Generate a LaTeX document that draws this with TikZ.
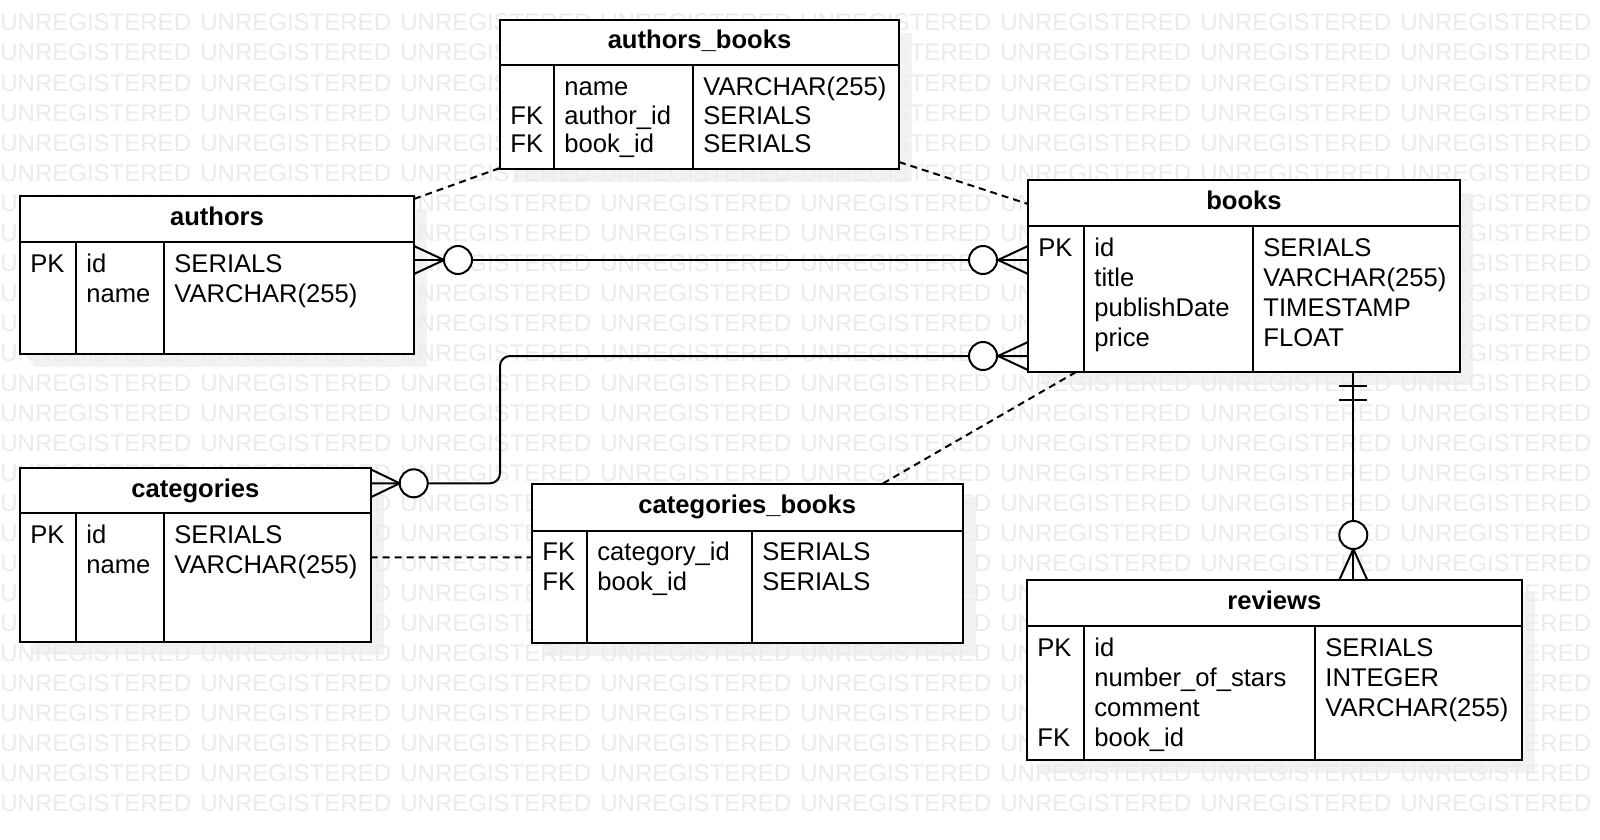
\documentclass[tikz,border=0pt]{standalone}
\usepackage{fontspec}
\setmainfont{Liberation Sans}
\usetikzlibrary{fit,calc}
\tikzset{
  tbl/.style={draw, line width=1pt, fill=white, inner sep=0pt, outer sep=0pt},
  tline/.style={line width=1pt},
  rel/.style={line width=1pt},
  assoc/.style={line width=1pt, dash pattern=on 3.5pt off 2.5pt},
  txt/.style={anchor=base west, inner sep=0pt, font=\fontsize{12.8}{15}\selectfont},
  ttl/.style={anchor=base, inner sep=0pt, font=\bfseries\fontsize{12.8}{15}\selectfont},
  wm/.style={anchor=base west, inner sep=0pt, text=black!8, font=\fontsize{12}{14}\selectfont},
  shd/.style={fill=black!5},
  ring/.style={draw, line width=1pt, fill=white, circle, minimum size=14pt, inner sep=0pt}
}
\newcommand\ertable[9]{%
  \node[tbl, fit={(#3,#4) (#5,#6)}] (#1) {};
  \draw[tline] (#3,#7) -- (#5,#7) (#8,#7) -- (#8,#6) (#9,#7) -- (#9,#6);
  \node[ttl] (#1-title) at ({(#3+#5)/2},{(#4+#7)/2+6.5}) {#2};
}
\newcommand\shadowbox[4]{\fill[shd] (#1+13,#2+13) rectangle (#3+13,#4+13);}
\newcommand\cell[4]{\node[txt] (#1) at (#2+10,#3) {#4};}
\begin{document}
\begin{tikzpicture}[x=0.5pt,y=-0.5pt]
\useasboundingbox (0,0) rectangle (1600,840);
\fill[white] (0,0) rectangle (1600,840);
% shadows
\shadowbox{20}{196}{414}{353.5}
\shadowbox{500}{20}{899}{169}
\shadowbox{1028}{180}{1460}{372}
\shadowbox{20}{468.3}{370.7}{641.7}
\shadowbox{532}{484}{962.5}{643.3}
\shadowbox{1027}{580}{1521.7}{760}
% watermark
\foreach \r in {0,...,26} {
  \foreach \c in {0,...,7} {
    \node[wm] (wm-\r-\c) at ({200*\c},{31+30*\r}) {UNREGISTERED};
  }
}
% tables
\ertable{authors}{authors}{20}{196}{414}{353.5}{241.7}{76}{164}
\ertable{authorsbooks}{authors\_books}{500}{20}{899}{169}{65}{554}{693}
\ertable{books}{books}{1028}{180}{1460}{372}{226}{1084}{1253}
\ertable{categories}{categories}{20}{468.3}{370.7}{641.7}{513.3}{76}{164}
\ertable{categoriesbooks}{categories\_books}{532}{484}{962.5}{643.3}{530.7}{587}{752}
\ertable{reviews}{reviews}{1027}{580}{1521.7}{760}{626}{1084}{1315}
% authors
\cell{au-k1}{20}{272}{PK}\cell{au-f1}{76}{272}{id}\cell{au-t1}{164}{272}{SERIALS}
\cell{au-f2}{76}{302}{name}\cell{au-t2}{164}{302}{VARCHAR(255)}
% authors_books
\cell{ab-f1}{554}{96}{name}\cell{ab-t1}{693}{96}{VARCHAR(255)}
\cell{ab-k2}{500}{124.5}{FK}\cell{ab-f2}{554}{124.5}{author\_id}\cell{ab-t2}{693}{124.5}{SERIALS}
\cell{ab-k3}{500}{153}{FK}\cell{ab-f3}{554}{153}{book\_id}\cell{ab-t3}{693}{153}{SERIALS}
% books
\cell{bk-k1}{1028}{256}{PK}\cell{bk-f1}{1084}{256}{id}\cell{bk-t1}{1253}{256}{SERIALS}
\cell{bk-f2}{1084}{286}{title}\cell{bk-t2}{1253}{286}{VARCHAR(255)}
\cell{bk-f3}{1084}{316}{publishDate}\cell{bk-t3}{1253}{316}{TIMESTAMP}
\cell{bk-f4}{1084}{346}{price}\cell{bk-t4}{1253}{346}{FLOAT}
% categories
\cell{ca-k1}{20}{543.5}{PK}\cell{ca-f1}{76}{543.5}{id}\cell{ca-t1}{164}{543.5}{SERIALS}
\cell{ca-f2}{76}{573.5}{name}\cell{ca-t2}{164}{573.5}{VARCHAR(255)}
% categories_books
\cell{cb-k1}{532}{560.7}{FK}\cell{cb-f1}{587}{560.7}{category\_id}\cell{cb-t1}{752}{560.7}{SERIALS}
\cell{cb-k2}{532}{590.7}{FK}\cell{cb-f2}{587}{590.7}{book\_id}\cell{cb-t2}{752}{590.7}{SERIALS}
% reviews
\cell{rv-k1}{1027}{656}{PK}\cell{rv-f1}{1084}{656}{id}\cell{rv-t1}{1315}{656}{SERIALS}
\cell{rv-f2}{1084}{686}{number\_of\_stars}\cell{rv-t2}{1315}{686}{INTEGER}
\cell{rv-f3}{1084}{716}{comment}\cell{rv-t3}{1315}{716}{VARCHAR(255)}
\cell{rv-k4}{1027}{746}{FK}\cell{rv-f4}{1084}{746}{book\_id}
% authors -- books
\coordinate (ab-a) at ($(authors.north east)+(0,64)$);
\coordinate (ab-b) at ($(books.north west)+(0,80)$);
\draw[rel] (ab-a) -- (ab-b);
\draw[rel] ($(ab-a)+(0,-14)$) -- ($(ab-a)+(30,0)$) -- ($(ab-a)+(0,14)$);
\node[ring] (ab-ca) at ($(ab-a)+(44,0)$) {};
\draw[rel] ($(ab-b)+(0,-14)$) -- ($(ab-b)+(-30,0)$) -- ($(ab-b)+(0,14)$);
\node[ring] (ab-cb) at ($(ab-b)+(-45,0)$) {};
% categories -- books
\coordinate (cb-a) at ($(categories.north east)+(0,15)$);
\coordinate (cb-b) at ($(books.north west)+(0,176)$);
\coordinate (cb-m) at ($(cb-a)+(129.3,0)$);
\draw[rel, rounded corners=5pt] (cb-b) -| (cb-m) -- (cb-a);
\draw[rel] ($(cb-a)+(0,-14)$) -- ($(cb-a)+(29,0)$) -- ($(cb-a)+(0,14)$);
\node[ring] (cb-ca) at ($(cb-a)+(43,0)$) {};
\draw[rel] ($(cb-b)+(0,-14)$) -- ($(cb-b)+(-30,0)$) -- ($(cb-b)+(0,14)$);
\node[ring] (cb-cb) at ($(cb-b)+(-45,0)$) {};
% books -- reviews
\coordinate (br-a) at ($(books.south west)+(325.3,0)$);
\coordinate (br-b) at ($(reviews.north west)+(326.3,0)$);
\draw[rel] (br-a) -- (br-b);
\draw[rel] ($(br-a)+(-14,14)$) -- ($(br-a)+(14,14)$);
\draw[rel] ($(br-a)+(-14,28)$) -- ($(br-a)+(14,28)$);
\draw[rel] ($(br-b)+(-14,0)$) -- ($(br-b)+(0,-31)$) -- ($(br-b)+(14,0)$);
\node[ring] (br-c) at ($(br-b)+(0,-45)$) {};
% associative dashed links
\draw[assoc] ($(authors.north east)+(0,3)$) -- ($(authorsbooks.south west)+(0,-1)$);
\draw[assoc] ($(authorsbooks.south east)+(0,-7)$) -- ($(books.north west)+(0,24)$);
\draw[assoc] ($(books.south west)+(48,0)$) -- ($(categoriesbooks.north west)+(350,0)$);
\draw[assoc] ($(categories.north east)+(0,89)$) -- ($(categoriesbooks.north west)+(0,73.3)$);
\end{tikzpicture}
\end{document}
